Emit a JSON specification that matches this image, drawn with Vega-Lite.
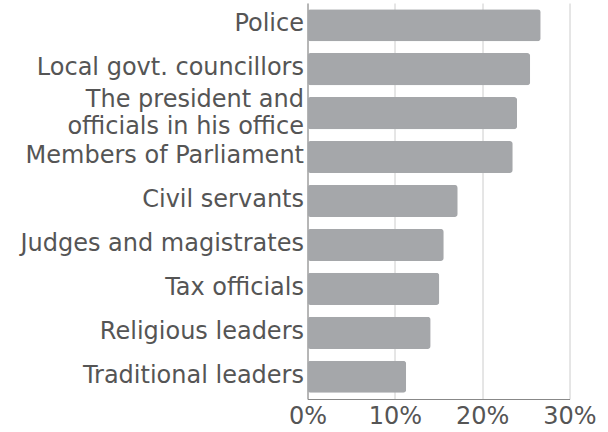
{
  "$schema": "https://vega.github.io/schema/vega-lite/v6.json",
  "autosize": "none",
  "width": 262,
  "height": 396,
  "padding": {"left": 307.5, "top": 3, "right": 38.5, "bottom": 33},
  "background": "white",
  "config": {
    "view": {"stroke": null},
    "font": "DejaVu Sans"
  },
  "data": {
    "values": [
      {"who": "Police", "pct": 0.267},
      {"who": "Local govt. councillors", "pct": 0.255},
      {"who": "The president and |officials in his office", "pct": 0.240},
      {"who": "Members of Parliament", "pct": 0.235},
      {"who": "Civil servants", "pct": 0.172},
      {"who": "Judges and magistrates", "pct": 0.156},
      {"who": "Tax officials", "pct": 0.151},
      {"who": "Religious leaders", "pct": 0.141},
      {"who": "Traditional leaders", "pct": 0.113}
    ]
  },
  "mark": {"type": "bar", "color": "#a5a7aa", "cornerRadius": 3},
  "encoding": {
    "y": {
      "field": "who",
      "type": "nominal",
      "sort": null,
      "scale": {"paddingInner": 0.27, "paddingOuter": 0.14},
      "axis": {
        "title": null,
        "ticks": false,
        "domainColor": "#888888",
        "labelFont": "DejaVu Sans",
        "labelFontSize": 24,
        "labelColor": "#555555",
        "labelPadding": 4,
        "labelLineHeight": 27,
        "labelLimit": 400,
        "labelOffset": {"condition": {"test": "indexof(datum.label, '|') >= 0", "value": -13}, "value": -1},
        "labelExpr": "split(datum.label, '|')"
      }
    },
    "x": {
      "field": "pct",
      "type": "quantitative",
      "scale": {"domain": [0, 0.3], "nice": false},
      "axis": {
        "title": null,
        "format": ".0%",
        "values": [0, 0.1, 0.2, 0.3],
        "ticks": false,
        "grid": true,
        "gridColor": "#cccccc",
        "domainColor": "#888888",
        "labelFont": "DejaVu Sans",
        "labelFontSize": 24,
        "labelColor": "#555555",
        "labelPadding": 5,
        "labelFlush": false
      }
    }
  }
}
